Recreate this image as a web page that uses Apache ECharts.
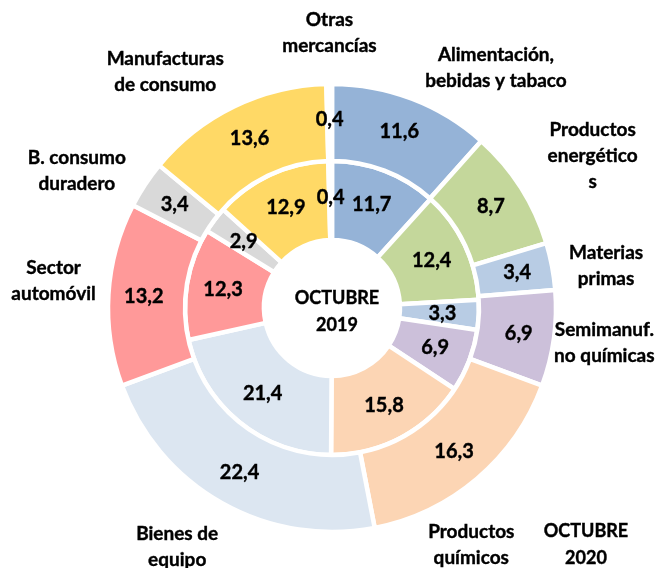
<!DOCTYPE html>
<html>
<head>
<meta charset="utf-8">
<script src="https://cdn.jsdelivr.net/npm/echarts@6/dist/echarts.min.js"></script>
<style>
html,body{margin:0;padding:0;background:#fff;}
#chart{width:659px;height:568px;}
</style>
</head>
<body>
<div id="chart"></div>
<script>
// Data (clockwise from 12 o'clock)
var categories = [
  'Alimentación,\nbebidas y tabaco',
  'Productos\nenergético\ns',
  'Materias\nprimas',
  'Semimanuf.\nno químicas',
  'Productos\nquímicos',
  'Bienes de\nequipo',
  'Sector\nautomóvil',
  'B. consumo\nduradero',
  'Manufacturas\nde consumo',
  'Otras\nmercancías'
];
var values2020 = [11.6, 8.7, 3.4, 6.9, 16.3, 22.4, 13.2, 3.4, 13.6, 0.4];
var values2019 = [11.7, 12.4, 3.3, 6.9, 15.8, 21.4, 12.3, 2.9, 12.9, 0.4];
var innerTitle = 'OCTUBRE\n2019';
var outerTitle = 'OCTUBRE\n2020';

// Styles
var colors = ['#95B3D7', '#C4D79B', '#B8CCE4', '#CCC0DA', '#FCD5B4',
              '#DCE6F1', '#FF9999', '#D9D9D9', '#FFD966', '#FFFFFF'];
var nameLabelShift = [[63,24],[22,0],[-4,11],[-8,-4],[-44,21],[-16,-8],[4,-10],[-19,19],[-43,18],[1,8]];
var FONT = 'Lato';
var center = [332, 308];

function fmt(v){ return v.toFixed(1).replace('.', ','); }

function ringData(vals){
  return vals.map(function(v,i){
    return { name: categories[i], value: v, itemStyle: { color: colors[i] } };
  });
}

function valueLabel(){
  return {
    show: true, position: 'inside', color: '#000', fontFamily: FONT,
    fontWeight: 'bold', fontSize: 20,
    textBorderColor: '#000', textBorderWidth: 0.4,
    formatter: function(p){ return fmt(p.value); }
  };
}
var commonItem = { borderColor: '#fff', borderWidth: 4.5 };

var chart = echarts.init(document.getElementById('chart'));
chart.setOption({
  animation: false,
  backgroundColor: '#fff',
  series: [
    {
      type: 'pie', center: center, radius: [68, 147], startAngle: 90, clockwise: true,
      silent: true, itemStyle: commonItem, label: valueLabel(), labelLine: {show:false},
      emphasis: {disabled: true},
      data: ringData(values2019)
    },
    {
      type: 'pie', center: center, radius: [147, 224], startAngle: 90, clockwise: true,
      silent: true, itemStyle: commonItem, label: valueLabel(), labelLine: {show:false},
      emphasis: {disabled: true},
      data: ringData(values2020)
    },
    {
      type: 'pie', center: center, radius: [270, 290], startAngle: 90, clockwise: true,
      silent: true, z: 5, emphasis: {disabled: true}, labelLine: {show:false},
      itemStyle: { color: 'rgba(0,0,0,0)', borderWidth: 0 },
      label: { show: true, position: 'inside', color: '#000', fontFamily: FONT,
               fontWeight: 'bold', fontSize: 19, lineHeight: 26,
               textBorderColor: '#000', textBorderWidth: 0.4,
               formatter: function(p){ return p.name; } },
      data: values2020.map(function(v,i){
        return { name: categories[i], value: v, label: { offset: nameLabelShift[i] } };
      })
    }
  ],
  graphic: [
    { type: 'text', x: 337, y: 312, style: { text: innerTitle, fill: '#000', font: 'bold 18px Lato',
      stroke: '#000', lineWidth: 0.4,
      textAlign: 'center', textVerticalAlign: 'middle', lineHeight: 27 } },
    { type: 'text', x: 586, y: 545, style: { text: outerTitle, fill: '#000', font: 'bold 18px Lato',
      stroke: '#000', lineWidth: 0.4,
      textAlign: 'center', textVerticalAlign: 'middle', lineHeight: 27 } }
  ]
});
</script>
</body>
</html>
